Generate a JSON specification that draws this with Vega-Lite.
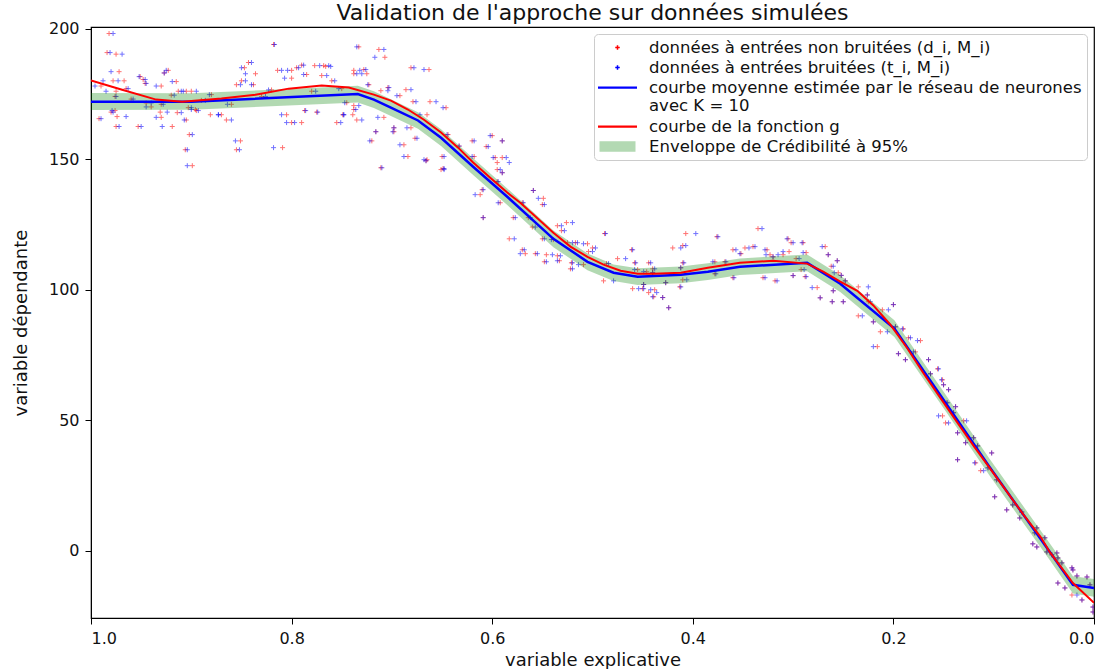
{
  "$schema": "https://vega.github.io/schema/vega-lite/v6.json",
  "width": 1003,
  "height": 591,
  "autosize": {"type": "none"},
  "padding": {"left": 91, "top": 27, "right": 20, "bottom": 51},
  "background": "white",
  "title": {"text": "Validation de l'approche sur données simulées", "fontSize": 22, "font": "DejaVu Sans", "fontWeight": "normal", "anchor": "middle", "offset": -4, "color": "#111"},
  "config": {
    "view": {"stroke": "black", "strokeWidth": 1.2},
    "axis": {"labelFont": "DejaVu Sans", "titleFont": "DejaVu Sans", "labelFontSize": 16, "titleFontSize": 18, "titleFontWeight": "normal", "labelColor": "#111", "titleColor": "#111", "tickColor": "black", "domainColor": "black", "tickSize": 6, "grid": false, "labelPadding": 6}
  },
  "datasets": {
    "pts": [
      {"d":0.982,"t":0.978,"M":198.1},{"d":0.984,"t":0.981,"M":190.8},{"d":0.975,"t":0.969,"M":190.2},{"d":0.972,"t":0.98,"M":183.5},{"d":0.967,"t":0.973,"M":180.0},{"d":0.978,"t":0.988,"M":180.0},{"d":0.99,"t":0.996,"M":178.0},{"d":0.975,"t":0.985,"M":176.0},{"d":0.965,"t":0.963,"M":177.0},{"d":0.951,"t":0.952,"M":181.6},
      {"d":0.946,"t":0.945,"M":179.0},{"d":0.93,"t":0.935,"M":178.0},{"d":0.923,"t":0.925,"M":184.0},{"d":0.915,"t":0.919,"M":179.7},{"d":0.905,"t":0.908,"M":176.0},{"d":0.9,"t":0.895,"M":176.0},{"d":0.992,"t":0.99,"M":165.5},{"d":0.974,"t":0.965,"M":166.3},{"d":0.975,"t":0.972,"M":162.5},{"d":0.953,"t":0.95,"M":162.5},
      {"d":0.976,"t":0.979,"M":168.6},{"d":0.94,"t":0.945,"M":170.0},{"d":0.93,"t":0.935,"M":166.0},{"d":0.931,"t":0.924,"M":168.0},{"d":0.919,"t":0.929,"M":162.5},{"d":0.914,"t":0.91,"M":167.8},{"d":0.905,"t":0.907,"M":165.0},{"d":0.902,"t":0.899,"M":159.4},{"d":0.906,"t":0.904,"M":153.6},{"d":0.899,"t":0.904,"M":147.5},
      {"d":0.895,"t":0.893,"M":168.6},{"d":0.88,"t":0.882,"M":174.7},{"d":0.881,"t":0.873,"M":167.0},{"d":0.865,"t":0.86,"M":165.0},{"d":0.851,"t":0.856,"M":157.0},{"d":0.855,"t":0.852,"M":153.6},{"d":0.855,"t":0.851,"M":178.5},{"d":0.85,"t":0.846,"M":180.0},{"d":0.847,"t":0.85,"M":185.0},{"d":0.843,"t":0.84,"M":187.0},
      {"d":0.836,"t":0.846,"M":182.7},{"d":0.838,"t":0.84,"M":178.5},{"d":0.818,"t":0.817,"M":193.9},{"d":0.809,"t":0.818,"M":154.4},{"d":0.805,"t":0.81,"M":167.0},{"d":0.8,"t":0.805,"M":164.0},{"d":0.79,"t":0.797,"M":164.0},{"d":0.814,"t":0.81,"M":184.0},{"d":0.8,"t":0.807,"M":181.0},{"d":0.795,"t":0.793,"M":185.0},
      {"d":0.785,"t":0.788,"M":182.4},{"d":0.79,"t":0.788,"M":186.0},{"d":0.777,"t":0.772,"M":185.8},{"d":0.768,"t":0.763,"M":185.8},{"d":0.787,"t":0.786,"M":168.6},{"d":0.775,"t":0.774,"M":168.0},{"d":0.755,"t":0.751,"M":164.0},{"d":0.749,"t":0.748,"M":167.0},{"d":0.77,"t":0.765,"M":182.0},{"d":0.76,"t":0.757,"M":180.0},
      {"d":0.733,"t":0.735,"M":193.0},{"d":0.713,"t":0.708,"M":192.0},{"d":0.711,"t":0.71,"M":146.7},{"d":0.716,"t":0.716,"M":160.5},{"d":0.98,"t":0.978,"M":168.0},{"d":0.976,"t":0.975,"M":174.0},{"d":0.948,"t":0.946,"M":180.5},{"d":0.927,"t":0.927,"M":183.0},{"d":0.913,"t":0.91,"M":176.0},{"d":0.903,"t":0.9,"M":169.7},
      {"d":0.896,"t":0.9,"M":169.0},{"d":0.87,"t":0.873,"M":167.0},{"d":0.8,"t":0.804,"M":184.0},{"d":0.766,"t":0.761,"M":185.5},{"d":0.738,"t":0.732,"M":184.0},{"d":0.738,"t":0.733,"M":170.5},{"d":0.698,"t":0.698,"M":162.0},{"d":0.704,"t":0.703,"M":177.4},{"d":0.96,"t":0.958,"M":173.0},{"d":0.945,"t":0.94,"M":171.5},
      {"d":0.92,"t":0.917,"M":174.5},{"d":0.89,"t":0.886,"M":172.5},{"d":0.86,"t":0.864,"M":171.0},{"d":0.83,"t":0.826,"M":174.0},{"d":0.82,"t":0.823,"M":176.5},{"d":0.78,"t":0.776,"M":176.0},{"d":0.75,"t":0.753,"M":177.0},{"d":0.93,"t":0.928,"M":171.0},
      {"d":0.707,"t":0.717,"M":189.0},{"d":0.728,"t":0.726,"M":184.3},{"d":0.681,"t":0.678,"M":185.0},{"d":0.663,"t":0.668,"M":184.3},{"d":0.738,"t":0.735,"M":182.7},{"d":0.725,"t":0.73,"M":182.7},{"d":0.723,"t":0.724,"M":178.5},{"d":0.711,"t":0.704,"M":176.2},{"d":0.692,"t":0.695,"M":174.3},{"d":0.686,"t":0.681,"M":176.6},
      {"d":0.679,"t":0.676,"M":172.0},{"d":0.662,"t":0.656,"M":172.0},{"d":0.646,"t":0.649,"M":169.7},{"d":0.739,"t":0.748,"M":167.0},{"d":0.735,"t":0.73,"M":165.0},{"d":0.745,"t":0.747,"M":171.6},{"d":0.738,"t":0.736,"M":169.0},{"d":0.708,"t":0.714,"M":166.0},{"d":0.665,"t":0.672,"M":167.0},{"d":0.698,"t":0.699,"M":160.5},
      {"d":0.681,"t":0.685,"M":162.0},{"d":0.677,"t":0.675,"M":158.0},{"d":0.72,"t":0.722,"M":157.0},{"d":0.688,"t":0.692,"M":155.5},{"d":0.684,"t":0.688,"M":151.0},{"d":0.666,"t":0.666,"M":149.4},{"d":0.651,"t":0.648,"M":146.0},{"d":0.644,"t":0.645,"M":159.4},{"d":0.633,"t":0.633,"M":155.0},{"d":0.62,"t":0.618,"M":157.0},
      {"d":0.618,"t":0.62,"M":151.0},{"d":0.606,"t":0.604,"M":154.8},{"d":0.6,"t":0.602,"M":159.0},{"d":0.59,"t":0.59,"M":157.0},{"d":0.597,"t":0.599,"M":150.6},{"d":0.59,"t":0.586,"M":150.6},{"d":0.595,"t":0.583,"M":148.7},{"d":0.595,"t":0.592,"M":146.0},{"d":0.59,"t":0.59,"M":144.8},{"d":0.595,"t":0.594,"M":141.4},
      {"d":0.61,"t":0.609,"M":138.3},{"d":0.612,"t":0.617,"M":136.4},{"d":0.559,"t":0.559,"M":138.0},{"d":0.549,"t":0.554,"M":135.0},{"d":0.57,"t":0.569,"M":133.3},{"d":0.592,"t":0.594,"M":133.3},
      {"d":0.665,"t":0.668,"M":149.8},{"d":0.649,"t":0.648,"M":146.4},{"d":0.65,"t":0.648,"M":151.0},{"d":0.609,"t":0.609,"M":127.6},{"d":0.55,"t":0.548,"M":132.6},{"d":0.579,"t":0.577,"M":127.6},{"d":0.564,"t":0.562,"M":127.6},{"d":0.56,"t":0.557,"M":124.0},{"d":0.535,"t":0.531,"M":124.5},{"d":0.526,"t":0.52,"M":125.7},
      {"d":0.531,"t":0.528,"M":122.6},{"d":0.583,"t":0.578,"M":119.5},{"d":0.55,"t":0.548,"M":119.5},{"d":0.539,"t":0.541,"M":119.2},{"d":0.525,"t":0.52,"M":118.0},{"d":0.517,"t":0.515,"M":118.0},{"d":0.505,"t":0.509,"M":117.6},{"d":0.5,"t":0.497,"M":116.0},{"d":0.57,"t":0.568,"M":115.3},{"d":0.567,"t":0.572,"M":113.8},
      {"d":0.557,"t":0.555,"M":113.8},{"d":0.546,"t":0.54,"M":113.4},{"d":0.535,"t":0.532,"M":113.0},{"d":0.548,"t":0.546,"M":110.7},{"d":0.533,"t":0.535,"M":111.1},{"d":0.521,"t":0.52,"M":110.3},{"d":0.522,"t":0.52,"M":108.0},{"d":0.509,"t":0.514,"M":109.6},{"d":0.504,"t":0.5,"M":114.6},{"d":0.488,"t":0.487,"M":121.5},
      {"d":0.486,"t":0.484,"M":110.0},{"d":0.475,"t":0.467,"M":111.9},{"d":0.458,"t":0.457,"M":110.3},{"d":0.461,"t":0.46,"M":115.3},{"d":0.444,"t":0.442,"M":110.3},{"d":0.455,"t":0.458,"M":107.7},{"d":0.44,"t":0.438,"M":108.0},{"d":0.489,"t":0.479,"M":103.4},{"d":0.427,"t":0.427,"M":102.7},{"d":0.46,"t":0.454,"M":100.4},
      {"d":0.45,"t":0.449,"M":100.4},{"d":0.449,"t":0.449,"M":102.0},{"d":0.444,"t":0.436,"M":98.9},{"d":0.43,"t":0.43,"M":97.0},{"d":0.424,"t":0.424,"M":93.1},{"d":0.42,"t":0.412,"M":116.0},{"d":0.412,"t":0.412,"M":108.4},{"d":0.413,"t":0.412,"M":101.1},
      {"d":0.407,"t":0.397,"M":121.5},{"d":0.376,"t":0.375,"M":120.3},{"d":0.41,"t":0.407,"M":116.9},{"d":0.41,"t":0.409,"M":110.3},{"d":0.378,"t":0.38,"M":110.7},{"d":0.368,"t":0.367,"M":110.7},{"d":0.348,"t":0.344,"M":116.0},{"d":0.34,"t":0.338,"M":116.5},{"d":0.36,"t":0.357,"M":115.3},{"d":0.352,"t":0.353,"M":113.8},
      {"d":0.335,"t":0.331,"M":123.4},{"d":0.323,"t":0.327,"M":113.4},{"d":0.326,"t":0.328,"M":115.3},{"d":0.32,"t":0.32,"M":112.6},{"d":0.305,"t":0.306,"M":119.5},{"d":0.302,"t":0.3,"M":118.0},{"d":0.304,"t":0.31,"M":114.6},{"d":0.31,"t":0.315,"M":113.4},{"d":0.29,"t":0.291,"M":118.0},{"d":0.287,"t":0.29,"M":114.2},
      {"d":0.297,"t":0.294,"M":111.9},{"d":0.268,"t":0.271,"M":116.5},{"d":0.265,"t":0.265,"M":113.4},{"d":0.256,"t":0.256,"M":111.1},{"d":0.262,"t":0.26,"M":109.0},{"d":0.446,"t":0.449,"M":106.9},{"d":0.44,"t":0.44,"M":106.5},{"d":0.438,"t":0.442,"M":100.0},{"d":0.439,"t":0.44,"M":97.3},{"d":0.41,"t":0.406,"M":103.8},
      {"d":0.378,"t":0.377,"M":106.1},{"d":0.36,"t":0.359,"M":104.6},{"d":0.33,"t":0.328,"M":104.6},{"d":0.318,"t":0.316,"M":103.4},{"d":0.3,"t":0.3,"M":105.4},{"d":0.292,"t":0.289,"M":107.7},{"d":0.288,"t":0.287,"M":105.0},{"d":0.276,"t":0.281,"M":100.8},{"d":0.273,"t":0.273,"M":96.9},{"d":0.26,"t":0.26,"M":99.6},
      {"d":0.261,"t":0.261,"M":95.4},{"d":0.255,"t":0.259,"M":106.5},{"d":0.25,"t":0.25,"M":95.4},{"d":0.252,"t":0.252,"M":105.5},{"d":0.248,"t":0.248,"M":103.4},{"d":0.235,"t":0.225,"M":101.1},{"d":0.226,"t":0.226,"M":98.0},{"d":0.235,"t":0.231,"M":90.0},{"d":0.225,"t":0.223,"M":95.4},{"d":0.22,"t":0.22,"M":87.7},
      {"d":0.213,"t":0.206,"M":83.9},{"d":0.211,"t":0.205,"M":92.3},{"d":0.216,"t":0.22,"M":78.2},{"d":0.2,"t":0.2,"M":94.3},{"d":0.198,"t":0.198,"M":85.8},
      {"d":0.19,"t":0.191,"M":85.0},{"d":0.185,"t":0.183,"M":81.6},{"d":0.173,"t":0.176,"M":80.5},{"d":0.195,"t":0.195,"M":75.5},{"d":0.178,"t":0.18,"M":76.2},{"d":0.188,"t":0.188,"M":73.2},{"d":0.165,"t":0.165,"M":73.2},{"d":0.156,"t":0.155,"M":69.7},{"d":0.163,"t":0.163,"M":67.8},{"d":0.151,"t":0.152,"M":65.5},
      {"d":0.15,"t":0.15,"M":63.6},{"d":0.145,"t":0.145,"M":61.7},{"d":0.147,"t":0.146,"M":56.7},{"d":0.138,"t":0.138,"M":55.2},{"d":0.14,"t":0.14,"M":52.9},{"d":0.151,"t":0.155,"M":51.7},{"d":0.13,"t":0.127,"M":49.8},{"d":0.148,"t":0.145,"M":49.0},{"d":0.136,"t":0.136,"M":45.2},{"d":0.12,"t":0.12,"M":43.3},
      {"d":0.116,"t":0.116,"M":40.2},{"d":0.136,"t":0.136,"M":34.9},{"d":0.128,"t":0.128,"M":41.4},{"d":0.102,"t":0.102,"M":37.5},{"d":0.118,"t":0.119,"M":33.7},{"d":0.113,"t":0.11,"M":30.7},{"d":0.105,"t":0.106,"M":31.8},{"d":0.097,"t":0.097,"M":27.2},{"d":0.099,"t":0.099,"M":20.7},{"d":0.087,"t":0.087,"M":15.7},
      {"d":0.081,"t":0.081,"M":17.6},{"d":0.072,"t":0.072,"M":14.9},{"d":0.074,"t":0.074,"M":12.6},{"d":0.057,"t":0.057,"M":8.8},{"d":0.059,"t":0.059,"M":6.9},{"d":0.049,"t":0.049,"M":5.0},{"d":0.061,"t":0.061,"M":2.7},{"d":0.057,"t":0.057,"M":1.5},{"d":0.047,"t":0.047,"M":-0.4},{"d":0.042,"t":0.042,"M":-1.5},
      {"d":0.037,"t":0.037,"M":-0.8},{"d":0.036,"t":0.036,"M":-2.7},{"d":0.032,"t":0.032,"M":-4.6},{"d":0.022,"t":0.022,"M":-6.5},{"d":0.021,"t":0.021,"M":-7.3},{"d":0.036,"t":0.036,"M":-12.3},{"d":0.029,"t":0.029,"M":-14.2},{"d":0.022,"t":0.017,"M":-16.9},{"d":0.017,"t":0.017,"M":-9.6},{"d":0.012,"t":0.012,"M":-18.8},
      {"d":0.007,"t":0.007,"M":-10.0},{"d":0.004,"t":0.004,"M":-13.0},{"d":0.001,"t":0.001,"M":-21.5},{"d":0.001,"t":0.001,"M":-23.4}
    ],
    "g": [
      {"x":1.0,"y":180.1},{"x":0.969,"y":176.6},{"x":0.935,"y":172.8},{"x":0.909,"y":172.0},{"x":0.87,"y":173.2},{"x":0.836,"y":174.7},{"x":0.803,"y":177.0},{"x":0.77,"y":178.2},{"x":0.743,"y":177.4},{"x":0.718,"y":174.7},
      {"x":0.701,"y":172.4},{"x":0.684,"y":169.0},{"x":0.668,"y":165.1},{"x":0.651,"y":160.2},{"x":0.634,"y":154.4},{"x":0.619,"y":148.7},{"x":0.602,"y":142.9},{"x":0.585,"y":137.2},{"x":0.572,"y":133.3},{"x":0.539,"y":121.8},
      {"x":0.522,"y":116.5},{"x":0.505,"y":112.6},{"x":0.489,"y":109.6},{"x":0.472,"y":107.3},{"x":0.455,"y":106.1},{"x":0.439,"y":106.1},{"x":0.412,"y":106.5},{"x":0.385,"y":108.4},{"x":0.353,"y":110.3},{"x":0.32,"y":111.1},
      {"x":0.286,"y":110.0},{"x":0.27,"y":106.9},{"x":0.253,"y":103.1},{"x":0.236,"y":99.6},{"x":0.22,"y":94.0},{"x":0.203,"y":86.6},{"x":0.186,"y":77.5},{"x":0.17,"y":68.0},{"x":0.153,"y":58.5},{"x":0.136,"y":49.0},
      {"x":0.12,"y":40.2},{"x":0.103,"y":31.2},{"x":0.086,"y":22.2},{"x":0.07,"y":13.7},{"x":0.053,"y":5.2},{"x":0.044,"y":-0.5},{"x":0.021,"y":-12.3},{"x":0.0,"y":-19.9}
    ],
    "nn": [
      {"x":1.0,"m":172.0,"lo":168.8,"hi":175.3},{"x":0.9,"m":172.0,"lo":168.9,"hi":175.2},{"x":0.734,"m":174.9,"lo":171.7,"hi":178.1},{"x":0.718,"m":172.8,"lo":169.6,"hi":176.0},{"x":0.701,"m":169.7,"lo":166.5,"hi":172.9},
      {"x":0.674,"m":164.8,"lo":161.6,"hi":168.0},{"x":0.651,"m":158.2,"lo":155.0,"hi":161.4},{"x":0.619,"m":147.1,"lo":143.9,"hi":150.3},{"x":0.585,"m":135.6,"lo":132.4,"hi":138.8},{"x":0.539,"m":119.5,"lo":116.3,"hi":122.7},
      {"x":0.505,"m":110.7,"lo":107.5,"hi":113.9},{"x":0.479,"m":106.5,"lo":103.3,"hi":109.7},{"x":0.455,"m":105.0,"lo":101.8,"hi":108.2},{"x":0.412,"m":105.7,"lo":102.5,"hi":108.9},{"x":0.385,"m":106.9,"lo":103.7,"hi":110.1},
      {"x":0.353,"m":108.8,"lo":105.6,"hi":112.0},{"x":0.286,"m":110.3,"lo":107.1,"hi":113.5},{"x":0.253,"m":102.3,"lo":99.1,"hi":105.5},{"x":0.199,"m":85.1,"lo":81.9,"hi":88.3},{"x":0.153,"m":59.5,"lo":56.3,"hi":62.7},
      {"x":0.104,"m":32.0,"lo":28.8,"hi":35.2},{"x":0.044,"m":-0.4,"lo":-3.6,"hi":2.8},{"x":0.021,"m":-13.0,"lo":-16.3,"hi":-9.7},{"x":0.0,"m":-14.2,"lo":-17.6,"hi":-10.8}
    ]
  },
  "layer": [
    {
      "data": {"name": "pts"},
      "mark": {"type": "point", "size": 278, "filled": false, "strokeWidth": 1, "opacity": 0.55, "clip": true},
      "encoding": {
        "x": {"field": "d", "type": "quantitative", "title": "variable explicative", "scale": {"domain": [0, 1], "reverse": true, "nice": false, "zero": false}, "axis": {"values": [1, 0.8, 0.6, 0.4, 0.2, 0], "format": ".1f", "titlePadding": 5}},
        "y": {"field": "M", "type": "quantitative", "title": "variable dépendante", "scale": {"domain": [-25.7, 200.6], "nice": false, "zero": false}, "axis": {"values": [0, 50, 100, 150, 200], "titlePadding": 18}},
        "color": {
          "datum": "données à entrées non bruitées (d_i, M_i)",
          "type": "nominal",
          "scale": {
            "domain": ["données à entrées non bruitées (d_i, M_i)", "données à entrées bruitées (t_i, M_i)", "courbe moyenne estimée par le réseau de neurones avec K = 10", "courbe de la fonction g", "Enveloppe de Crédibilité à 95%"],
            "range": ["#ff0000", "#0000ff", "#0000ff", "#ff0000", "#b3d9b3"]
          },
          "legend": {
            "title": null,
            "orient": "top-right",
            "offset": 7,
            "padding": 5,
            "fillColor": "rgba(255,255,255,0.85)",
            "strokeColor": "#cccccc",
            "cornerRadius": 4,
            "symbolSize": 225,
            "symbolOffset": 10,
            "labelOffset": 23,
            "symbolStrokeWidth": 1.5,
            "symbolOpacity": 1,
            "labelFont": "DejaVu Sans",
            "labelFontSize": 16.5,
            "labelColor": "#111",
            "labelLimit": 0,
            "rowPadding": 3,
            "labelExpr": "indexof(datum.label, 'avec K') > 0 ? ['courbe moyenne estimée par le réseau de neurones', '\u00a0avec K = 10'] : datum.label"
          }
        },
        "shape": {
          "datum": "données à entrées non bruitées (d_i, M_i)",
          "type": "nominal",
          "scale": {
            "domain": ["données à entrées non bruitées (d_i, M_i)", "données à entrées bruitées (t_i, M_i)", "courbe moyenne estimée par le réseau de neurones avec K = 10", "courbe de la fonction g", "Enveloppe de Crédibilité à 95%"],
            "range": ["M-0.3,0H0.3M0,-0.3V0.3", "M-0.3,0H0.3M0,-0.3V0.3", "M-2.5,-0.05H2.5V0.05H-2.5Z", "M-2.5,-0.05H2.5V0.05H-2.5Z", "M-2.4,-0.6H2.4M-2.4,-0.48H2.4M-2.4,-0.36H2.4M-2.4,-0.24H2.4M-2.4,-0.12H2.4M-2.4,0H2.4M-2.4,0.12H2.4M-2.4,0.24H2.4M-2.4,0.36H2.4M-2.4,0.48H2.4M-2.4,0.6H2.4"]
          },
          "legend": {
            "title": null,
            "orient": "top-right",
            "offset": 7,
            "padding": 5,
            "fillColor": "rgba(255,255,255,0.85)",
            "strokeColor": "#cccccc",
            "cornerRadius": 4,
            "symbolSize": 225,
            "symbolOffset": 10,
            "labelOffset": 23,
            "symbolStrokeWidth": 1.5,
            "symbolOpacity": 1,
            "labelFont": "DejaVu Sans",
            "labelFontSize": 16.5,
            "labelColor": "#111",
            "labelLimit": 0,
            "rowPadding": 3,
            "labelExpr": "indexof(datum.label, 'avec K') > 0 ? ['courbe moyenne estimée par le réseau de neurones', '\u00a0avec K = 10'] : datum.label"
          }
        }
      }
    },
    {
      "data": {"name": "pts"},
      "mark": {"type": "point", "shape": "M-0.3,0H0.3M0,-0.3V0.3", "size": 278, "filled": false, "strokeWidth": 1, "opacity": 0.55, "color": "#0000ff", "clip": true},
      "encoding": {
        "x": {"field": "t", "type": "quantitative", "title": "variable explicative"},
        "y": {"field": "M", "type": "quantitative", "title": "variable dépendante"}
      }
    },
    {
      "data": {"name": "nn"},
      "mark": {"type": "area", "opacity": 0.3, "color": "#008000", "clip": true},
      "encoding": {
        "x": {"field": "x", "type": "quantitative", "title": "variable explicative"},
        "y": {"field": "lo", "type": "quantitative", "title": "variable dépendante"},
        "y2": {"field": "hi"}
      }
    },
    {
      "data": {"name": "nn"},
      "mark": {"type": "line", "strokeWidth": 2.5, "color": "#0000ff", "clip": true},
      "encoding": {
        "x": {"field": "x", "type": "quantitative", "title": "variable explicative"},
        "y": {"field": "m", "type": "quantitative", "title": "variable dépendante"}
      }
    },
    {
      "data": {"name": "g"},
      "mark": {"type": "line", "strokeWidth": 2, "color": "#ff0000", "clip": true},
      "encoding": {
        "x": {"field": "x", "type": "quantitative", "title": "variable explicative"},
        "y": {"field": "y", "type": "quantitative", "title": "variable dépendante"}
      }
    }
  ]
}
